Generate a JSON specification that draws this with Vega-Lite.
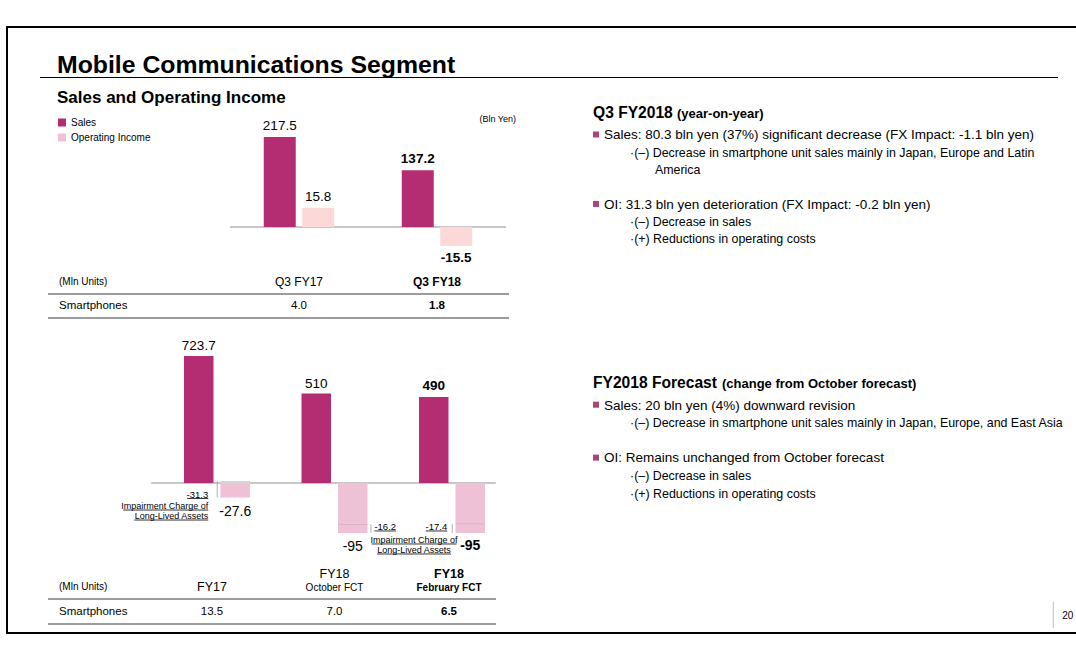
{
"$schema": "https://vega.github.io/schema/vega-lite/v6.json",
"width": 1076, "height": 660,
"autosize": {"type": "fit", "contains": "padding"},
"padding": {"left": 7, "top": 27, "right": -3, "bottom": 27},
"background": "#ffffff",
"title": {
  "text": "Mobile Communications Segment",
  "subtitle": "Sales and Operating Income",
  "anchor": "start", "frame": "group", "orient": "top",
  "offset": -78.6, "dx": 50,
  "font": "Liberation Sans", "fontSize": 24.8, "fontWeight": "bold", "color": "#000000",
  "subtitleFont": "Liberation Sans", "subtitleFontSize": 17, "subtitleFontWeight": "bold", "subtitleColor": "#000000", "subtitlePadding": 11.8
},
"config": {
  "view": {"stroke": "#000000", "strokeWidth": 2},
  "font": "Liberation Sans",
  "text": {"color": "#000000"},
  "locale": {"number": {"decimal": ".", "thousands": ",", "grouping": [3], "currency": ["$", ""], "minus": "-"}}
},
"datasets": {
  "meta": [{"unit": "(Bln Yen)", "page": "20"}],
  "rows": [{"row": "(Mln Units)"}, {"row": "Smartphones"}],
  "q3": [
    {"period": "Q3 FY17", "series": "Sales", "value": 217.5},
    {"period": "Q3 FY17", "series": "Operating Income", "value": 15.8},
    {"period": "Q3 FY18", "series": "Sales", "value": 137.2},
    {"period": "Q3 FY18", "series": "Operating Income", "value": -15.5}
  ],
  "q3units": [
    {"period": "Q3 FY17", "units": 4.0},
    {"period": "Q3 FY18", "units": 1.8}
  ],
  "fy": [
    {"period": "FY17", "series": "Sales", "value": 723.7},
    {"period": "FY17", "series": "Operating Income", "value": -27.6, "excl": 3.7, "impairment": -31.3, "note1": "Impairment Charge of", "note2": "Long-Lived Assets"},
    {"period": "FY18 October FCT", "series": "Sales", "value": 510},
    {"period": "FY18 October FCT", "series": "Operating Income", "value": -95, "excl": -78.8, "impairment": -16.2},
    {"period": "FY18 February FCT", "series": "Sales", "value": 490},
    {"period": "FY18 February FCT", "series": "Operating Income", "value": -95, "excl": -77.6, "impairment": -17.4, "note1": "Impairment Charge of", "note2": "Long-Lived Assets"}
  ],
  "fyunits": [
    {"period": "FY17", "head": "FY17", "sub": "", "units": 13.5},
    {"period": "FY18 October FCT", "head": "FY18", "sub": "October FCT", "units": 7.0},
    {"period": "FY18 February FCT", "head": "FY18", "sub": "February FCT", "units": 6.5}
  ],
  "notes": [
    {"section": "Q3", "line": 0, "level": 0, "kind": "head", "text": "Q3 FY2018"},
    {"section": "Q3", "line": 0, "level": 0, "kind": "paren", "text": "(year-on-year)"},
    {"section": "Q3", "line": 1, "level": 0, "kind": "bullet", "text": "Sales: 80.3 bln yen (37%) significant decrease (FX Impact: -1.1 bln yen)"},
    {"section": "Q3", "line": 2, "level": 1, "kind": "sub", "text": "·(–) Decrease in smartphone unit sales mainly in Japan, Europe and Latin"},
    {"section": "Q3", "line": 3, "level": 2, "kind": "sub", "text": "America"},
    {"section": "Q3", "line": 5, "level": 0, "kind": "bullet", "text": "OI: 31.3 bln yen deterioration (FX Impact: -0.2 bln yen)"},
    {"section": "Q3", "line": 6, "level": 1, "kind": "sub", "text": "·(–) Decrease in sales"},
    {"section": "Q3", "line": 7, "level": 1, "kind": "sub", "text": "·(+) Reductions in operating costs"},
    {"section": "FY", "line": 0, "level": 0, "kind": "head", "text": "FY2018 Forecast"},
    {"section": "FY", "line": 0, "level": 0, "kind": "paren", "text": "(change from October forecast)"},
    {"section": "FY", "line": 1, "level": 0, "kind": "bullet", "text": "Sales: 20 bln yen (4%) downward revision"},
    {"section": "FY", "line": 2, "level": 1, "kind": "sub", "text": "·(–) Decrease in smartphone unit sales mainly in Japan, Europe, and East Asia"},
    {"section": "FY", "line": 4, "level": 0, "kind": "bullet", "text": "OI: Remains unchanged from October forecast"},
    {"section": "FY", "line": 5, "level": 1, "kind": "sub", "text": "·(–) Decrease in sales"},
    {"section": "FY", "line": 6, "level": 1, "kind": "sub", "text": "·(+) Reductions in operating costs"}
  ]
},
"layer": [
  {
    "data": {"name": "meta"},
    "layer": [
      {"mark": {"type": "rule", "color": "#000000", "strokeWidth": 1.2},
       "encoding": {
         "x": {"datum": 0.0308, "type": "quantitative", "scale": {"domain": [0, 1], "nice": false, "zero": false}, "axis": null},
         "x2": {"datum": 0.9804},
         "y": {"datum": 0.0833, "type": "quantitative", "scale": {"domain": [0, 1], "nice": false, "zero": false, "reverse": true}, "axis": null}}},
      {"mark": {"type": "rule", "color": "#BDBDBD", "strokeWidth": 1},
       "encoding": {
         "x": {"datum": 0.976, "type": "quantitative", "axis": null},
         "y": {"datum": 0.9488, "type": "quantitative", "axis": null},
         "y2": {"datum": 0.9917}}},
      {"mark": {"type": "text", "align": "left", "baseline": "alphabetic", "fontSize": 10},
       "encoding": {
         "x": {"datum": 0.9844, "type": "quantitative", "axis": null},
         "y": {"datum": 0.9769, "type": "quantitative", "axis": null},
         "text": {"field": "page"}}}
    ]
  },
  {
    "layer": [
      {
        "layer": [
          {"data": {"name": "meta"},
           "mark": {"type": "rule", "color": "#8F8F8F", "strokeWidth": 1},
           "encoding": {
             "x": {"datum": "Q3 FY17", "type": "nominal", "bandPosition": 0, "scale": {"domain": ["Q3 FY17", "Q3 FY18"], "range": [223, 499], "paddingInner": 0, "paddingOuter": 0}, "axis": null},
             "x2": {"datum": "Q3 FY18", "bandPosition": 1},
             "y": {"datum": 0, "type": "quantitative", "scale": {"domain": [0, 217.5], "range": [200, 110], "nice": false}, "axis": null}}},
          {"data": {"name": "meta"},
           "mark": {"type": "text", "align": "right", "baseline": "middle", "fontSize": 9, "dx": 10},
           "encoding": {
             "x": {"datum": "Q3 FY18", "type": "nominal", "bandPosition": 1, "scale": {"domain": ["Q3 FY17", "Q3 FY18"], "range": [223, 499], "paddingInner": 0, "paddingOuter": 0}, "axis": null},
             "y": {"datum": 261, "type": "quantitative", "scale": {"domain": [0, 217.5], "range": [200, 110], "nice": false}, "axis": null},
             "text": {"field": "unit"}}},
          {"data": {"name": "q3"},
           "transform": [{"filter": "datum.series === 'Sales'"}],
           "mark": {"type": "bar", "color": "#B42D72"},
           "encoding": {
             "x": {"field": "period", "type": "nominal", "scale": {"domain": ["Q3 FY17", "Q3 FY18"], "range": [223, 499], "paddingInner": 0, "paddingOuter": 0}, "axis": null},
             "xOffset": {"field": "series", "type": "nominal", "scale": {"domain": ["Sales", "Operating Income"], "paddingInner": 0.169, "paddingOuter": 0.877}},
             "y": {"field": "value", "type": "quantitative", "scale": {"domain": [0, 217.5], "range": [200, 110], "nice": false}, "axis": null}}},
          {"data": {"name": "q3"},
           "transform": [{"filter": "datum.series === 'Sales' && datum.period === 'Q3 FY17'"}],
           "mark": {"type": "text", "baseline": "alphabetic", "dy": -7, "fontSize": 13.5},
           "encoding": {
             "x": {"field": "period", "type": "nominal", "axis": null},
             "xOffset": {"field": "series", "type": "nominal"},
             "y": {"field": "value", "type": "quantitative", "axis": null},
             "text": {"field": "value", "type": "quantitative", "format": ".1f"}}},
          {"data": {"name": "q3"},
           "transform": [{"filter": "datum.series === 'Sales' && datum.period === 'Q3 FY18'"}],
           "mark": {"type": "text", "baseline": "alphabetic", "dy": -7, "fontSize": 13.5, "fontWeight": "bold"},
           "encoding": {
             "x": {"field": "period", "type": "nominal", "axis": null},
             "xOffset": {"field": "series", "type": "nominal"},
             "y": {"field": "value", "type": "quantitative", "axis": null},
             "text": {"field": "value", "type": "quantitative", "format": ".1f"}}}
        ]
      },
      {
        "data": {"name": "q3"},
        "transform": [{"filter": "datum.series === 'Operating Income'"}],
        "layer": [
          {"mark": {"type": "bar", "color": "#FCD8D9"},
           "encoding": {
             "x": {"field": "period", "type": "nominal", "scale": {"domain": ["Q3 FY17", "Q3 FY18"], "range": [223, 499], "paddingInner": 0, "paddingOuter": 0}, "axis": null},
             "xOffset": {"field": "series", "type": "nominal", "scale": {"domain": ["Sales", "Operating Income"], "paddingInner": 0.169, "paddingOuter": 0.877}},
             "y": {"field": "value", "type": "quantitative", "scale": {"domain": [0, 16], "range": [200, 180.5], "nice": false}, "axis": null}}},
          {"transform": [{"filter": "datum.period === 'Q3 FY17'"}],
           "mark": {"type": "text", "baseline": "alphabetic", "dy": -7, "fontSize": 13.5},
           "encoding": {
             "x": {"field": "period", "type": "nominal", "axis": null},
             "xOffset": {"field": "series", "type": "nominal"},
             "y": {"field": "value", "type": "quantitative", "axis": null},
             "text": {"field": "value", "type": "quantitative", "format": ".1f"}}},
          {"transform": [{"filter": "datum.period === 'Q3 FY18'"}],
           "mark": {"type": "text", "baseline": "top", "dy": 5, "fontSize": 13.5, "fontWeight": "bold"},
           "encoding": {
             "x": {"field": "period", "type": "nominal", "axis": null},
             "xOffset": {"field": "series", "type": "nominal"},
             "y": {"field": "value", "type": "quantitative", "axis": null},
             "text": {"field": "value", "type": "quantitative", "format": ".1f"}}}
        ]
      },
      {
        "layer": [
          {"data": {"name": "rows"},
           "transform": [{"filter": "datum.row === '(Mln Units)'"}],
           "mark": {"type": "text", "align": "left", "baseline": "middle", "fontSize": 10, "dx": -171},
           "encoding": {
             "x": {"datum": "Q3 FY17", "type": "nominal", "bandPosition": 0, "scale": {"domain": ["Q3 FY17", "Q3 FY18"], "range": [223, 499], "paddingInner": 0, "paddingOuter": 0}, "axis": null},
             "y": {"field": "row", "type": "nominal", "scale": {"domain": ["(Mln Units)", "Smartphones"], "range": [243, 291], "paddingInner": 0, "paddingOuter": 0}, "axis": null},
             "text": {"field": "row"}}},
          {"data": {"name": "rows"},
           "transform": [{"filter": "datum.row === 'Smartphones'"}],
           "mark": {"type": "text", "align": "left", "baseline": "middle", "fontSize": 11.5, "dx": -171},
           "encoding": {
             "x": {"datum": "Q3 FY17", "type": "nominal", "bandPosition": 0, "axis": null},
             "y": {"field": "row", "type": "nominal", "axis": null},
             "text": {"field": "row"}}},
          {"data": {"name": "q3units"},
           "transform": [{"filter": "datum.period === 'Q3 FY17'"}],
           "mark": {"type": "text", "baseline": "middle", "fontSize": 12},
           "encoding": {
             "x": {"field": "period", "type": "nominal", "axis": null},
             "y": {"datum": "(Mln Units)", "type": "nominal", "axis": null},
             "text": {"field": "period"}}},
          {"data": {"name": "q3units"},
           "transform": [{"filter": "datum.period === 'Q3 FY18'"}],
           "mark": {"type": "text", "baseline": "middle", "fontSize": 12, "fontWeight": "bold"},
           "encoding": {
             "x": {"field": "period", "type": "nominal", "axis": null},
             "y": {"datum": "(Mln Units)", "type": "nominal", "axis": null},
             "text": {"field": "period"}}},
          {"data": {"name": "q3units"},
           "transform": [{"filter": "datum.period === 'Q3 FY17'"}],
           "mark": {"type": "text", "baseline": "middle", "fontSize": 11.5},
           "encoding": {
             "x": {"field": "period", "type": "nominal", "axis": null},
             "y": {"datum": "Smartphones", "type": "nominal", "axis": null},
             "text": {"field": "units", "type": "quantitative", "format": ".1f"}}},
          {"data": {"name": "q3units"},
           "transform": [{"filter": "datum.period === 'Q3 FY18'"}],
           "mark": {"type": "text", "baseline": "middle", "fontSize": 11.5, "fontWeight": "bold"},
           "encoding": {
             "x": {"field": "period", "type": "nominal", "axis": null},
             "y": {"datum": "Smartphones", "type": "nominal", "axis": null},
             "text": {"field": "units", "type": "quantitative", "format": ".1f"}}},
          {"data": {"name": "meta"},
           "mark": {"type": "rule", "color": "#3A3A3A", "strokeWidth": 1.2, "xOffset": -182, "x2Offset": 3},
           "encoding": {
             "x": {"datum": "Q3 FY17", "type": "nominal", "bandPosition": 0, "axis": null},
             "x2": {"datum": "Q3 FY18", "bandPosition": 1},
             "y": {"datum": "(Mln Units)", "type": "nominal", "bandPosition": 1, "axis": null}}},
          {"data": {"name": "meta"},
           "mark": {"type": "rule", "color": "#3A3A3A", "strokeWidth": 1.2, "xOffset": -182, "x2Offset": 3},
           "encoding": {
             "x": {"datum": "Q3 FY17", "type": "nominal", "bandPosition": 0, "axis": null},
             "x2": {"datum": "Q3 FY18", "bandPosition": 1},
             "y": {"datum": "Smartphones", "type": "nominal", "bandPosition": 1, "axis": null}}}
        ]
      }
    ],
    "resolve": {"scale": {"y": "independent"}}
  },
  {
    "layer": [
      {
        "layer": [
          {"data": {"name": "meta"},
           "mark": {"type": "rule", "color": "#8F8F8F", "strokeWidth": 1, "xOffset": -7, "x2Offset": -15},
           "encoding": {
             "x": {"datum": "FY17", "type": "nominal", "bandPosition": 0, "scale": {"domain": ["FY17", "FY18 October FCT", "FY18 February FCT"], "range": [151.25, 503.75], "paddingInner": 0, "paddingOuter": 0}, "axis": null},
             "x2": {"datum": "FY18 February FCT", "bandPosition": 1},
             "y": {"datum": 0, "type": "quantitative", "scale": {"domain": [0, 723.7], "range": [456, 329], "nice": false}, "axis": null}}},
          {"data": {"name": "fy"},
           "transform": [{"filter": "datum.series === 'Sales'"}],
           "mark": {"type": "bar"},
           "encoding": {
             "x": {"field": "period", "type": "nominal", "scale": {"domain": ["FY17", "FY18 October FCT", "FY18 February FCT"], "range": [151.25, 503.75], "paddingInner": 0, "paddingOuter": 0}, "axis": null},
             "xOffset": {"field": "series", "type": "nominal", "scale": {"domain": ["Sales", "Operating Income"], "paddingInner": 0.192, "paddingOuter": 0.705}},
             "y": {"field": "value", "type": "quantitative", "scale": {"domain": [0, 723.7], "range": [456, 329], "nice": false}, "axis": null},
             "color": {"field": "series", "type": "nominal", "scale": {"domain": ["Sales", "Operating Income"], "range": ["#B42D72", "#EFC1D7"]},
                       "legend": {"orient": "none", "legendX": 50, "legendY": 90.5, "title": null, "symbolType": "square", "symbolSize": 64, "symbolStrokeWidth": 0, "symbolOpacity": 1, "labelFontSize": 10, "labelFont": "Liberation Sans", "labelColor": "#000000", "labelOffset": 4, "rowPadding": 5, "padding": 0, "direction": "vertical"}}}},
          {"data": {"name": "fy"},
           "transform": [{"filter": "datum.series === 'Sales' && datum.period !== 'FY18 February FCT'"}],
           "mark": {"type": "text", "baseline": "alphabetic", "dy": -6, "fontSize": 13.5},
           "encoding": {
             "x": {"field": "period", "type": "nominal", "axis": null},
             "xOffset": {"field": "series", "type": "nominal"},
             "y": {"field": "value", "type": "quantitative", "axis": null},
             "text": {"field": "value", "type": "quantitative", "format": "~g"}}},
          {"data": {"name": "fy"},
           "transform": [{"filter": "datum.series === 'Sales' && datum.period === 'FY18 February FCT'"}],
           "mark": {"type": "text", "baseline": "alphabetic", "dy": -7, "fontSize": 13.5, "fontWeight": "bold"},
           "encoding": {
             "x": {"field": "period", "type": "nominal", "axis": null},
             "xOffset": {"field": "series", "type": "nominal"},
             "y": {"field": "value", "type": "quantitative", "axis": null},
             "text": {"field": "value", "type": "quantitative", "format": "~g"}}}
        ]
      },
      {
        "data": {"name": "fy"},
        "transform": [{"filter": "datum.series === 'Operating Income'"}],
        "layer": [
          {"mark": {"type": "bar"},
           "encoding": {
             "x": {"field": "period", "type": "nominal", "scale": {"domain": ["FY17", "FY18 October FCT", "FY18 February FCT"], "range": [151.25, 503.75], "paddingInner": 0, "paddingOuter": 0}, "axis": null},
             "xOffset": {"field": "series", "type": "nominal", "scale": {"domain": ["Sales", "Operating Income"], "paddingInner": 0.192, "paddingOuter": 0.705}},
             "y": {"field": "value", "type": "quantitative", "scale": {"domain": [0, 100], "range": [456, 403.4], "nice": false}, "axis": null},
             "color": {"field": "series", "type": "nominal"}}},
          {"transform": [{"filter": "datum.excl > 0"}],
           "mark": {"type": "bar", "color": "#D3D3D3"},
           "encoding": {
             "x": {"field": "period", "type": "nominal", "axis": null},
             "xOffset": {"field": "series", "type": "nominal"},
             "y": {"field": "excl", "type": "quantitative", "axis": null}}},
          {"transform": [{"filter": "datum.excl < 0"}],
           "mark": {"type": "tick", "orient": "horizontal", "color": "#D6A6BC", "thickness": 1, "size": 29.5},
           "encoding": {
             "x": {"field": "period", "type": "nominal", "axis": null},
             "xOffset": {"field": "series", "type": "nominal"},
             "y": {"field": "excl", "type": "quantitative", "axis": null}}},
          {"transform": [{"filter": "datum.period !== 'FY18 October FCT'"}],
           "mark": {"type": "rule", "color": "#9A9A9A", "strokeWidth": 0.8},
           "encoding": {
             "x": {"field": "period", "type": "nominal", "bandPosition": 0.502, "axis": null},
             "y": {"field": "excl", "type": "quantitative", "axis": null},
             "y2": {"field": "value"}}},
          {"transform": [{"filter": "datum.period === 'FY18 October FCT'"}],
           "mark": {"type": "rule", "color": "#9A9A9A", "strokeWidth": 0.8},
           "encoding": {
             "x": {"field": "period", "type": "nominal", "bandPosition": 0.81, "axis": null},
             "y": {"field": "excl", "type": "quantitative", "axis": null},
             "y2": {"field": "value"}}},
          {"transform": [{"filter": "datum.period !== 'FY18 February FCT'"}],
           "mark": {"type": "text", "baseline": "top", "dy": 7, "fontSize": 14},
           "encoding": {
             "x": {"field": "period", "type": "nominal", "axis": null},
             "xOffset": {"field": "series", "type": "nominal"},
             "y": {"field": "value", "type": "quantitative", "axis": null},
             "text": {"field": "value", "type": "quantitative", "format": "~g"}}},
          {"transform": [{"filter": "datum.period === 'FY18 February FCT'"}],
           "mark": {"type": "text", "baseline": "top", "dy": 6, "fontSize": 14, "fontWeight": "bold"},
           "encoding": {
             "x": {"field": "period", "type": "nominal", "axis": null},
             "xOffset": {"field": "series", "type": "nominal"},
             "y": {"field": "value", "type": "quantitative", "axis": null},
             "text": {"field": "value", "type": "quantitative", "format": "~g"}}},
          {"transform": [{"filter": "datum.period === 'FY17'"}],
           "mark": {"type": "text", "align": "right", "baseline": "middle", "dx": -9, "dy": -3, "fontSize": 9.5},
           "encoding": {
             "x": {"field": "period", "type": "nominal", "bandPosition": 0.502, "axis": null},
             "y": {"field": "value", "type": "quantitative", "axis": null},
             "text": {"field": "impairment", "type": "quantitative", "format": "~g"}}},
          {"transform": [{"filter": "datum.period === 'FY18 October FCT'"}],
           "mark": {"type": "text", "align": "left", "baseline": "middle", "dx": 3.5, "dy": -6, "fontSize": 9.5},
           "encoding": {
             "x": {"field": "period", "type": "nominal", "bandPosition": 0.81, "axis": null},
             "y": {"field": "value", "type": "quantitative", "axis": null},
             "text": {"field": "impairment", "type": "quantitative", "format": "~g"}}},
          {"transform": [{"filter": "datum.period === 'FY18 February FCT'"}],
           "mark": {"type": "text", "align": "right", "baseline": "middle", "dx": -5, "dy": -6, "fontSize": 9.5},
           "encoding": {
             "x": {"field": "period", "type": "nominal", "bandPosition": 0.502, "axis": null},
             "y": {"field": "value", "type": "quantitative", "axis": null},
             "text": {"field": "impairment", "type": "quantitative", "format": "~g"}}},
          {"transform": [{"filter": "datum.period === 'FY17'"}],
           "mark": {"type": "text", "align": "right", "baseline": "middle", "dx": -9, "dy": 8.5, "fontSize": 9},
           "encoding": {
             "x": {"field": "period", "type": "nominal", "bandPosition": 0.502, "axis": null},
             "y": {"field": "value", "type": "quantitative", "axis": null},
             "text": {"field": "note1"}}},
          {"transform": [{"filter": "datum.period === 'FY17'"}],
           "mark": {"type": "text", "align": "right", "baseline": "middle", "dx": -9, "dy": 18.5, "fontSize": 9},
           "encoding": {
             "x": {"field": "period", "type": "nominal", "bandPosition": 0.502, "axis": null},
             "y": {"field": "value", "type": "quantitative", "axis": null},
             "text": {"field": "note2"}}},
          {"transform": [{"filter": "datum.period === 'FY18 February FCT'"}],
           "mark": {"type": "text", "align": "center", "baseline": "middle", "dy": 7, "fontSize": 9},
           "encoding": {
             "x": {"field": "period", "type": "nominal", "bandPosition": 0.177, "axis": null},
             "y": {"field": "value", "type": "quantitative", "axis": null},
             "text": {"field": "note1"}}},
          {"transform": [{"filter": "datum.period === 'FY18 February FCT'"}],
           "mark": {"type": "text", "align": "center", "baseline": "middle", "dy": 17, "fontSize": 9},
           "encoding": {
             "x": {"field": "period", "type": "nominal", "bandPosition": 0.177, "axis": null},
             "y": {"field": "value", "type": "quantitative", "axis": null},
             "text": {"field": "note2"}}},
          {"transform": [{"filter": "datum.period === 'FY17'"}],
           "mark": {"type": "rule", "color": "#000000", "strokeWidth": 0.8, "xOffset": -30, "x2Offset": -9, "yOffset": 1},
           "encoding": {
             "x": {"field": "period", "type": "nominal", "bandPosition": 0.502, "axis": null},
             "x2": {"field": "period", "bandPosition": 0.502},
             "y": {"field": "value", "type": "quantitative", "axis": null}}},
          {"transform": [{"filter": "datum.period === 'FY17'"}],
           "mark": {"type": "rule", "color": "#000000", "strokeWidth": 0.8, "xOffset": -94, "x2Offset": -9, "yOffset": 12.5},
           "encoding": {
             "x": {"field": "period", "type": "nominal", "bandPosition": 0.502, "axis": null},
             "x2": {"field": "period", "bandPosition": 0.502},
             "y": {"field": "value", "type": "quantitative", "axis": null}}},
          {"transform": [{"filter": "datum.period === 'FY17'"}],
           "mark": {"type": "rule", "color": "#000000", "strokeWidth": 0.8, "xOffset": -83, "x2Offset": -9, "yOffset": 22.5},
           "encoding": {
             "x": {"field": "period", "type": "nominal", "bandPosition": 0.502, "axis": null},
             "x2": {"field": "period", "bandPosition": 0.502},
             "y": {"field": "value", "type": "quantitative", "axis": null}}},
          {"transform": [{"filter": "datum.period === 'FY18 October FCT'"}],
           "mark": {"type": "rule", "color": "#000000", "strokeWidth": 0.8, "xOffset": 3.5, "x2Offset": 25, "yOffset": -2},
           "encoding": {
             "x": {"field": "period", "type": "nominal", "bandPosition": 0.81, "axis": null},
             "x2": {"field": "period", "bandPosition": 0.81},
             "y": {"field": "value", "type": "quantitative", "axis": null}}},
          {"transform": [{"filter": "datum.period === 'FY18 February FCT'"}],
           "mark": {"type": "rule", "color": "#000000", "strokeWidth": 0.8, "xOffset": -26.5, "x2Offset": -5, "yOffset": -2},
           "encoding": {
             "x": {"field": "period", "type": "nominal", "bandPosition": 0.502, "axis": null},
             "x2": {"field": "period", "bandPosition": 0.502},
             "y": {"field": "value", "type": "quantitative", "axis": null}}},
          {"transform": [{"filter": "datum.period === 'FY18 February FCT'"}],
           "mark": {"type": "rule", "color": "#000000", "strokeWidth": 0.8, "xOffset": -42.5, "x2Offset": 42.5, "yOffset": 11},
           "encoding": {
             "x": {"field": "period", "type": "nominal", "bandPosition": 0.177, "axis": null},
             "x2": {"field": "period", "bandPosition": 0.177},
             "y": {"field": "value", "type": "quantitative", "axis": null}}},
          {"transform": [{"filter": "datum.period === 'FY18 February FCT'"}],
           "mark": {"type": "rule", "color": "#000000", "strokeWidth": 0.8, "xOffset": -37, "x2Offset": 37, "yOffset": 21},
           "encoding": {
             "x": {"field": "period", "type": "nominal", "bandPosition": 0.177, "axis": null},
             "x2": {"field": "period", "bandPosition": 0.177},
             "y": {"field": "value", "type": "quantitative", "axis": null}}}
        ]
      },
      {
        "layer": [
          {"data": {"name": "rows"},
           "transform": [{"filter": "datum.row === '(Mln Units)'"}],
           "mark": {"type": "text", "align": "left", "baseline": "middle", "fontSize": 10, "dx": -99.25},
           "encoding": {
             "x": {"datum": "FY17", "type": "nominal", "bandPosition": 0, "scale": {"domain": ["FY17", "FY18 October FCT", "FY18 February FCT"], "range": [151.25, 503.75], "paddingInner": 0, "paddingOuter": 0}, "axis": null},
             "y": {"field": "row", "type": "nominal", "scale": {"domain": ["(Mln Units)", "Smartphones"], "range": [547, 597], "paddingInner": 0, "paddingOuter": 0}, "axis": null},
             "text": {"field": "row"}}},
          {"data": {"name": "rows"},
           "transform": [{"filter": "datum.row === 'Smartphones'"}],
           "mark": {"type": "text", "align": "left", "baseline": "middle", "fontSize": 11.5, "dx": -99.25},
           "encoding": {
             "x": {"datum": "FY17", "type": "nominal", "bandPosition": 0, "axis": null},
             "y": {"field": "row", "type": "nominal", "axis": null},
             "text": {"field": "row"}}},
          {"data": {"name": "fyunits"},
           "transform": [{"filter": "datum.period === 'FY17'"}],
           "mark": {"type": "text", "baseline": "middle", "fontSize": 12.5, "dx": -5},
           "encoding": {
             "x": {"field": "period", "type": "nominal", "axis": null},
             "y": {"datum": "(Mln Units)", "type": "nominal", "axis": null},
             "text": {"field": "head"}}},
          {"data": {"name": "fyunits"},
           "transform": [{"filter": "datum.period === 'FY18 October FCT'"}],
           "mark": {"type": "text", "baseline": "middle", "fontSize": 12.5, "dy": -12.5},
           "encoding": {
             "x": {"field": "period", "type": "nominal", "axis": null},
             "y": {"datum": "(Mln Units)", "type": "nominal", "axis": null},
             "text": {"field": "head"}}},
          {"data": {"name": "fyunits"},
           "transform": [{"filter": "datum.period === 'FY18 February FCT'"}],
           "mark": {"type": "text", "baseline": "middle", "fontSize": 12.5, "fontWeight": "bold", "dy": -12.5, "dx": -3},
           "encoding": {
             "x": {"field": "period", "type": "nominal", "axis": null},
             "y": {"datum": "(Mln Units)", "type": "nominal", "axis": null},
             "text": {"field": "head"}}},
          {"data": {"name": "fyunits"},
           "transform": [{"filter": "datum.period === 'FY18 October FCT'"}],
           "mark": {"type": "text", "baseline": "middle", "fontSize": 10, "dy": 1.5},
           "encoding": {
             "x": {"field": "period", "type": "nominal", "axis": null},
             "y": {"datum": "(Mln Units)", "type": "nominal", "axis": null},
             "text": {"field": "sub"}}},
          {"data": {"name": "fyunits"},
           "transform": [{"filter": "datum.period === 'FY18 February FCT'"}],
           "mark": {"type": "text", "baseline": "middle", "fontSize": 10, "fontWeight": "bold", "dy": 1.5, "dx": -3},
           "encoding": {
             "x": {"field": "period", "type": "nominal", "axis": null},
             "y": {"datum": "(Mln Units)", "type": "nominal", "axis": null},
             "text": {"field": "sub"}}},
          {"data": {"name": "fyunits"},
           "transform": [{"filter": "datum.period === 'FY17'"}],
           "mark": {"type": "text", "baseline": "middle", "fontSize": 11.5, "dx": -5},
           "encoding": {
             "x": {"field": "period", "type": "nominal", "axis": null},
             "y": {"datum": "Smartphones", "type": "nominal", "axis": null},
             "text": {"field": "units", "type": "quantitative", "format": ".1f"}}},
          {"data": {"name": "fyunits"},
           "transform": [{"filter": "datum.period === 'FY18 October FCT'"}],
           "mark": {"type": "text", "baseline": "middle", "fontSize": 11.5},
           "encoding": {
             "x": {"field": "period", "type": "nominal", "axis": null},
             "y": {"datum": "Smartphones", "type": "nominal", "axis": null},
             "text": {"field": "units", "type": "quantitative", "format": ".1f"}}},
          {"data": {"name": "fyunits"},
           "transform": [{"filter": "datum.period === 'FY18 February FCT'"}],
           "mark": {"type": "text", "baseline": "middle", "fontSize": 11.5, "fontWeight": "bold", "dx": -3},
           "encoding": {
             "x": {"field": "period", "type": "nominal", "axis": null},
             "y": {"datum": "Smartphones", "type": "nominal", "axis": null},
             "text": {"field": "units", "type": "quantitative", "format": ".1f"}}},
          {"data": {"name": "meta"},
           "mark": {"type": "rule", "color": "#3A3A3A", "strokeWidth": 1.2, "xOffset": -110.25, "x2Offset": -14.75},
           "encoding": {
             "x": {"datum": "FY17", "type": "nominal", "bandPosition": 0, "axis": null},
             "x2": {"datum": "FY18 February FCT", "bandPosition": 1},
             "y": {"datum": "(Mln Units)", "type": "nominal", "bandPosition": 1, "axis": null}}},
          {"data": {"name": "meta"},
           "mark": {"type": "rule", "color": "#3A3A3A", "strokeWidth": 1.2, "xOffset": -110.25, "x2Offset": -14.75},
           "encoding": {
             "x": {"datum": "FY17", "type": "nominal", "bandPosition": 0, "axis": null},
             "x2": {"datum": "FY18 February FCT", "bandPosition": 1},
             "y": {"datum": "Smartphones", "type": "nominal", "bandPosition": 1, "axis": null}}}
        ]
      }
    ],
    "resolve": {"scale": {"y": "independent"}}
  },
  {
    "data": {"name": "notes"},
    "transform": [{"filter": "datum.section === 'Q3'"}],
    "encoding": {
      "x": {"field": "level", "type": "quantitative", "scale": {"domain": [0, 2], "range": [598, 648], "nice": false, "zero": false}, "axis": null},
      "y": {"field": "line", "type": "quantitative", "scale": {"domain": [1, 7], "range": [112.3, 216.45], "nice": false, "zero": false}, "axis": null}
    },
    "layer": [
      {"transform": [{"filter": "datum.kind === 'head'"}],
       "mark": {"type": "text", "align": "left", "baseline": "alphabetic", "fontSize": 15.6, "fontWeight": "bold", "dx": -12, "dy": -3.6},
       "encoding": {"text": {"field": "text"}}},
      {"transform": [{"filter": "datum.kind === 'paren'"}],
       "mark": {"type": "text", "align": "left", "baseline": "alphabetic", "fontSize": 13, "fontWeight": "bold", "dx": 72, "dy": -3.6},
       "encoding": {"text": {"field": "text"}}},
      {"transform": [{"filter": "datum.kind === 'bullet'"}],
       "mark": {"type": "point", "shape": "square", "filled": true, "size": 36, "color": "#A8457D", "opacity": 1, "xOffset": -9, "yOffset": -4.8}},
      {"transform": [{"filter": "datum.kind === 'bullet'"}],
       "mark": {"type": "text", "align": "left", "baseline": "alphabetic", "fontSize": 13.5, "dx": -1},
       "encoding": {"text": {"field": "text"}}},
      {"transform": [{"filter": "datum.kind === 'sub'"}],
       "mark": {"type": "text", "align": "left", "baseline": "alphabetic", "fontSize": 12.4},
       "encoding": {"text": {"field": "text"}}}
    ]
  },
  {
    "data": {"name": "notes"},
    "transform": [{"filter": "datum.section === 'FY'"}],
    "encoding": {
      "x": {"field": "level", "type": "quantitative", "scale": {"domain": [0, 2], "range": [598, 648], "nice": false, "zero": false}, "axis": null},
      "y": {"field": "line", "type": "quantitative", "scale": {"domain": [1, 6], "range": [382.5, 470.7], "nice": false, "zero": false}, "axis": null}
    },
    "layer": [
      {"transform": [{"filter": "datum.kind === 'head'"}],
       "mark": {"type": "text", "align": "left", "baseline": "alphabetic", "fontSize": 15.6, "fontWeight": "bold", "dx": -12, "dy": -3.6},
       "encoding": {"text": {"field": "text"}}},
      {"transform": [{"filter": "datum.kind === 'paren'"}],
       "mark": {"type": "text", "align": "left", "baseline": "alphabetic", "fontSize": 13, "fontWeight": "bold", "dx": 117, "dy": -3.6},
       "encoding": {"text": {"field": "text"}}},
      {"transform": [{"filter": "datum.kind === 'bullet'"}],
       "mark": {"type": "point", "shape": "square", "filled": true, "size": 36, "color": "#A8457D", "opacity": 1, "xOffset": -9, "yOffset": -4.8}},
      {"transform": [{"filter": "datum.kind === 'bullet'"}],
       "mark": {"type": "text", "align": "left", "baseline": "alphabetic", "fontSize": 13.5, "dx": -1},
       "encoding": {"text": {"field": "text"}}},
      {"transform": [{"filter": "datum.kind === 'sub'"}],
       "mark": {"type": "text", "align": "left", "baseline": "alphabetic", "fontSize": 12.4},
       "encoding": {"text": {"field": "text"}}}
    ]
  }
],
"resolve": {"scale": {"x": "independent", "y": "independent", "xOffset": "independent"}}
}
